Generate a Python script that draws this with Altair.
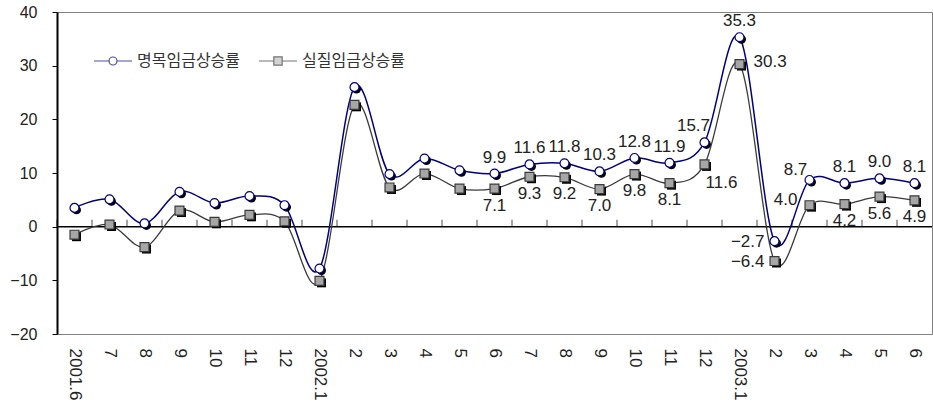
import json
import altair as alt
import pandas as pd

# Monthly wage growth rates (%), June 2001 - June 2003
periods = ["2001.6", "7", "8", "9", "10", "11", "12",
           "2002.1", "2", "3", "4", "5", "6", "7", "8", "9", "10", "11", "12",
           "2003.1", "2", "3", "4", "5", "6"]
nominal = [3.5, 5.1, 0.6, 6.5, 4.4, 5.7, 4.0,
           -7.8, 26.0, 9.8, 12.7, 10.5, 9.9, 11.6, 11.8, 10.3, 12.8, 11.9, 15.7,
           35.3, -2.7, 8.7, 8.1, 9.0, 8.1]
real = [-1.5, 0.4, -3.8, 3.0, 0.9, 2.2, 1.0,
        -10.1, 22.7, 7.3, 9.9, 7.1, 7.1, 9.3, 9.2, 7.0, 9.8, 8.1, 11.6,
        30.3, -6.4, 4.0, 4.2, 5.6, 4.9]
series_names = ["명목임금상승률", "실질임금상승률"]

# where each value label sits relative to its marker (None = no label)
nominal_label_at = [None] * 12 + ["above"] * 6 + ["above_left", "above", "left", "above_left2", "above", "above", "above"]
real_label_at = [None] * 12 + ["below"] * 6 + ["below_right", "right", "left", "left_up", "below", "below", "below"]

placements = {
    "above":       dict(align="center", dx=0, dy=-16),
    "below":       dict(align="center", dx=0, dy=17),
    "above_left":  dict(align="center", dx=-11, dy=-16),
    "above_left2": dict(align="center", dx=-14, dy=-10),
    "left":        dict(align="right", dx=-10, dy=1),
    "right":       dict(align="left", dx=14, dy=-2),
    "below_right": dict(align="center", dx=17, dy=19),
    "left_up":     dict(align="right", dx=-12, dy=-5),
}

rows = []
for name, vals, labs in [(series_names[0], nominal, nominal_label_at),
                         (series_names[1], real, real_label_at)]:
    for i, (v, p) in enumerate(zip(vals, labs)):
        rows.append({"idx": i, "series": name, "value": v, "pos": p or ""})
df = pd.DataFrame(rows)
ticks_df = pd.DataFrame({"idx": list(range(len(periods)))})

NAVY = "#000080"
DARK = "#3a3a3a"
GRAY = "#a6a6a6"
NUM_FONT = "Liberation Sans"
KR_FONT = "Noto Sans CJK KR"

x_scale = alt.Scale(type="band", paddingInner=0, paddingOuter=0)
y_scale = alt.Scale(domain=[-20, 40], nice=False, zero=False)

x_enc = alt.X(
    "idx:O", scale=x_scale, title=None,
    axis=alt.Axis(
        labelExpr=f"{json.dumps(periods)}[datum.value]",
        labelAngle=90, labelAlign="left", labelBaseline="middle",
        labelPadding=14, labelFontSize=17, labelFont=NUM_FONT, labelColor="#222",
        domain=False, ticks=False, grid=False,
    ),
)
y_enc = alt.Y(
    "value:Q", scale=y_scale, title=None,
    axis=alt.Axis(
        values=[-20, -10, 0, 10, 20, 30, 40], grid=False,
        domainColor="black", domainWidth=2, tickColor="black", tickSize=5,
        tickWidth=1, labelPadding=15, labelFontSize=16, labelFont=NUM_FONT,
        labelColor="#222",
    ),
)

base = alt.Chart(df)

# zero line with small upward ticks at category boundaries
zero_line = alt.Chart(pd.DataFrame({"v": [0]})).mark_rule(
    color="black", strokeWidth=1.5
).encode(y=alt.Y("v:Q", scale=y_scale, title=None))
zero_ticks = alt.Chart(ticks_df).mark_tick(
    orient="vertical", size=7, thickness=1, yOffset=-3.5, color="black"
).encode(x=alt.X("idx:O", scale=x_scale, bandPosition=0, title=None), y=alt.datum(0))

layers = [zero_line, zero_ticks]

styles = {
    series_names[0]: dict(line=NAVY, shape="circle", fill="white", stroke=NAVY, width=1.5),
    series_names[1]: dict(line=DARK, shape="square", fill=GRAY, stroke=DARK, width=1.3),
}

for name, st in styles.items():
    sub = base.transform_filter(alt.datum.series == name)
    layers.append(sub.mark_line(interpolate="cardinal", color=st["line"],
                                strokeWidth=st["width"]).encode(x=x_enc, y=y_enc))
for name, st in styles.items():
    sub = base.transform_filter(alt.datum.series == name)
    layers.append(sub.mark_point(shape=st["shape"], filled=True, color="black",
                                 size=80, xOffset=2, yOffset=2, opacity=1).encode(x=x_enc, y=y_enc))
for name, st in styles.items():
    sub = base.transform_filter(alt.datum.series == name)
    layers.append(sub.mark_point(shape=st["shape"], filled=True, fill=st["fill"],
                                 stroke=st["stroke"], strokeWidth=1.2, size=80,
                                 opacity=1).encode(x=x_enc, y=y_enc))

# value labels
for key, pl in placements.items():
    layers.append(
        base.transform_filter(alt.datum.pos == key).mark_text(
            baseline="middle", fontSize=17, font=NUM_FONT, color="#222", **pl
        ).encode(x=x_enc, y=y_enc, text=alt.Text("value:Q", format=".1f"))
    )

# legend: line-marker-line symbols
circle_sym = ("M-1,0H-0.21M0.21,0H1M-0.21,0A0.21,0.21,0,1,0,0.21,0"
              "A0.21,0.21,0,1,0,-0.21,0Z")
square_sym = "M-1,0H-0.22M0.22,0H1M-0.22,-0.22H0.22V0.22H-0.22Z"
leg = alt.Legend(title=None, orient="none", legendX=36, legendY=29,
                 direction="horizontal", symbolSize=1444, symbolStrokeWidth=1.2,
                 labelFont=KR_FONT, labelFontSize=16, labelColor="#333",
                 labelOffset=4, columnPadding=15, padding=0)
legend_layer = base.transform_filter("datum.idx < 0").mark_point(
    filled=True, strokeWidth=1.2
).encode(
    x=x_enc, y=y_enc,
    shape=alt.Shape("series:N", scale=alt.Scale(domain=series_names, range=[circle_sym, square_sym]), legend=leg),
    fill=alt.Fill("series:N", scale=alt.Scale(domain=series_names, range=["white", GRAY]), legend=leg),
    stroke=alt.Stroke("series:N", scale=alt.Scale(domain=series_names, range=[NAVY, DARK]), legend=leg),
)
layers.append(legend_layer)

chart = alt.layer(*layers).properties(
    width=875, height=322,
    autosize=alt.AutoSizeParams(type="none"),
    padding={"left": 57, "top": 12, "right": 1, "bottom": 74},
    background="white",
).configure_view(stroke="#808080", strokeWidth=1)

chart.save("out.html", embed_options={"renderer": "svg", "actions": False})
